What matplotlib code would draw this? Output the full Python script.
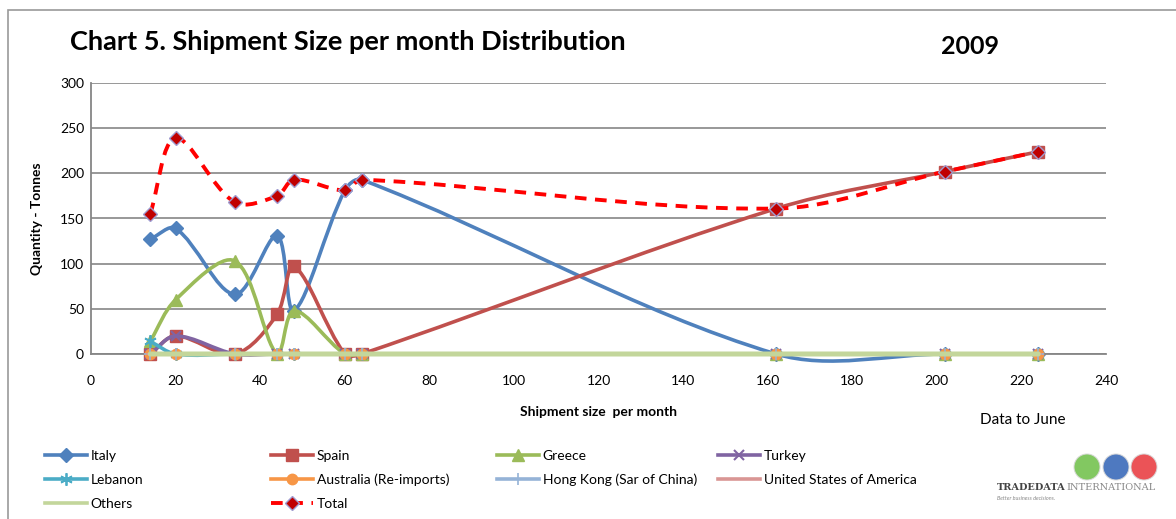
import numpy as np
import matplotlib
matplotlib.use("Agg")
import matplotlib.pyplot as plt
from matplotlib.path import Path
from matplotlib.patches import PathPatch, Rectangle, Circle
from matplotlib.lines import Line2D

# shipment size per month (x) and quantity in tonnes per origin
sizes = [14, 20, 34, 44, 48, 60, 64, 162, 202, 224]
italy = [127, 139, 66, 131, 48, 181, 193, 0, 0, 0]
spain = [0, 20, 0, 44, 97, 0, 0, 161, 202, 224]
greece = [14, 60, 103, 0, 48, 0, 0, 0, 0, 0]
turkey = [0, 20, 0, 0, 0, 0, 0, 0, 0, 0]
lebanon = [14, 0, 0, 0, 0, 0, 0, 0, 0, 0]
australia = [0, 0, 0, 0, 0, 0, 0, 0, 0, 0]
hong_kong = [0, 0, 0, 0, 0, 0, 0, 0, 0, 0]
usa = [0, 0, 0, 0, 0, 0, 0, 0, 0, 0]
others = [0, 0, 0, 0, 0, 0, 0, 0, 0, 0]
total = [155, 239, 168, 175, 193, 181, 193, 161, 202, 224]

FONT = "Lato"
plt.rcParams['font.family'] = [FONT, 'DejaVu Sans']

fig = plt.figure(figsize=(11.76, 5.19), dpi=100)
W, H = 1176, 519

# outer chart frame
fig.patches.append(Rectangle((8 / W, -0.1), 1.2, 1 - 10 / H + 0.1, transform=fig.transFigure,
                             fill=False, edgecolor='#9a9a9a', lw=1.2))

ax = fig.add_axes([91 / W, 1 - 354 / H, (1106 - 91) / W, (354 - 83) / H])
ax.set_xlim(0, 240)
ax.set_ylim(0, 300)
ax.set_xticks(range(0, 241, 20))
ax.set_yticks(range(0, 301, 50))
ax.tick_params(length=0, labelsize=10)
ax.tick_params(axis='x', pad=15)
ax.tick_params(axis='y', pad=5)
for s in ['top', 'right']:
    ax.spines[s].set_visible(False)
for s in ['left', 'bottom']:
    ax.spines[s].set_color('#868686')
    ax.spines[s].set_linewidth(1.3)
ax.yaxis.grid(True, color='#868686', lw=1.2)
ax.set_axisbelow(True)


def smooth_path(xs, ys):
    # cubic bezier through every point; tangent handles are weighted by
    # on-screen segment length so short hops do not overshoot
    pts = np.column_stack([xs, ys]).astype(float)
    scr = ax.transData.transform(pts)
    n = len(pts)
    verts = [pts[0]]
    codes = [Path.MOVETO]
    for i in range(n - 1):
        a, b = max(i - 1, 0), min(i + 2, n - 1)
        d01 = np.hypot(*(scr[i] - scr[a]))
        d12 = np.hypot(*(scr[i + 1] - scr[i]))
        d23 = np.hypot(*(scr[b] - scr[i + 1]))
        w1 = d12 / (d01 + d12) / 3
        w2 = d12 / (d12 + d23) / 3
        c1 = pts[i] + (pts[i + 1] - pts[a]) * w1
        c2 = pts[i + 1] - (pts[b] - pts[i]) * w2
        verts += [c1, c2, pts[i + 1]]
        codes += [Path.CURVE4] * 3
    return Path(verts, codes)


series = [
    ('Italy', italy, dict(color='#4f81bd', marker='D', ms=7, mfc='#4f81bd', mec='#4f81bd')),
    ('Spain', spain, dict(color='#c0504d', marker='s', ms=9, mfc='#c0504d', mec='#c0504d')),
    ('Greece', greece, dict(color='#9bbb59', marker='^', ms=9, mfc='#9bbb59', mec='#9bbb59')),
    ('Turkey', turkey, dict(color='#8064a2', marker='x', ms=7, mfc='#8064a2', mec='#8064a2', mew=1.5)),
    ('Lebanon', lebanon, dict(color='#4bacc6', marker=(6, 2, 0), ms=9, mfc='#4bacc6', mec='#4bacc6', mew=1.3)),
    ('Australia (Re-imports)', australia, dict(color='#f79646', marker='o', ms=7.5, mfc='#f79646', mec='#f79646')),
    ('Hong Kong (Sar of China)', hong_kong, dict(color='#95b3d7', marker='+', ms=8, mfc='#95b3d7', mec='#95b3d7', mew=1.2)),
    ('United States of America', usa, dict(color='#d99694', marker='_', ms=6, mfc='#d99694', mec='#d99694', mew=1.2)),
    ('Others', others, dict(color='#c3d69b', marker='None')),
]

handles = {}
for k, (name, vals, st) in enumerate(series):
    z = 2 + k * 0.1
    lw = 3.6 if name == 'Others' else 2.6
    ax.add_patch(PathPatch(smooth_path(sizes, vals), fill=False, edgecolor=st['color'],
                           lw=lw, capstyle='round', joinstyle='round', clip_on=False, zorder=z))
    mk = {k2: v for k2, v in st.items() if k2 != 'color'}
    if st['marker'] != 'None':
        ax.plot(sizes, vals, ls='none', clip_on=False, zorder=z + 0.05, **mk)
    handles[name] = Line2D([], [], color=st['color'], lw=2.6, **mk)

# total line, dashed red with diamond markers
ax.add_patch(PathPatch(smooth_path(sizes, total), fill=False, edgecolor='#ff0000', lw=2.8,
                       linestyle=(0, (3, 2.2)), capstyle='butt', zorder=4))
ax.plot(sizes, total, ls='none', marker='D', ms=7, mfc='#c00000', mec='#a09cd0', mew=1.0, zorder=4.1)
handles['Total'] = Line2D([], [], color='#ff0000', lw=2.8, ls=(0, (3, 2.2)), marker='D', ms=7,
                          mfc='#c00000', mec='#a09cd0', mew=1.0)

ax.set_xlabel('Shipment size  per month', fontsize=10, fontweight='bold', labelpad=14)
ax.set_ylabel('Quantity - Tonnes', fontsize=10, fontweight='bold', labelpad=12)

fig.text(70 / W, 1 - 42 / H, 'Chart 5. Shipment Size per month Distribution', fontsize=19.5,
         fontweight='bold', va='center', ha='left')
fig.text(970 / W, 1 - 47 / H, '2009', fontsize=18, fontweight='bold', va='center', ha='center')
fig.text(1023 / W, 1 - 420 / H, 'Data to June', fontsize=11, va='center', ha='center')

# legend, laid out as four columns
columns = [
    (45, ['Italy', 'Lebanon', 'Others']),
    (271, ['Spain', 'Australia (Re-imports)', 'Total']),
    (497, ['Greece', 'Hong Kong (Sar of China)']),
    (718, ['Turkey', 'United States of America']),
]
for x0, names in columns:
    fig.legend([handles[n] for n in names], names, loc='upper left',
               bbox_to_anchor=(x0 / W, 1 - 450 / H), frameon=False, fontsize=10,
               handlelength=3.0, handletextpad=0.3, labelspacing=0.85,
               borderpad=0, borderaxespad=0)

# logo
for cx, col in [(1087, '#6cbf45'), (1116, '#2f62b5'), (1144, '#e8353a')]:
    fig.patches.append(Circle((cx / 100, (H - 467) / 100), 0.13, transform=fig.dpi_scale_trans,
                              facecolor=col, edgecolor='#d8d8d8', lw=0.8, alpha=0.85))
fig.text(997 / W, 1 - 488 / H, 'TRADEDATA', fontsize=7, family='DejaVu Serif',
         color='#444444', va='center', fontweight='bold')
fig.text(1066 / W, 1 - 488 / H, 'INTERNATIONAL', fontsize=7, family='DejaVu Serif',
         color='#888888', va='center')
fig.text(997 / W, 1 - 498 / H, 'Better business decisions.', fontsize=4, style='italic',
         color='#888888', va='center')

fig.savefig('out.png', dpi=100)
